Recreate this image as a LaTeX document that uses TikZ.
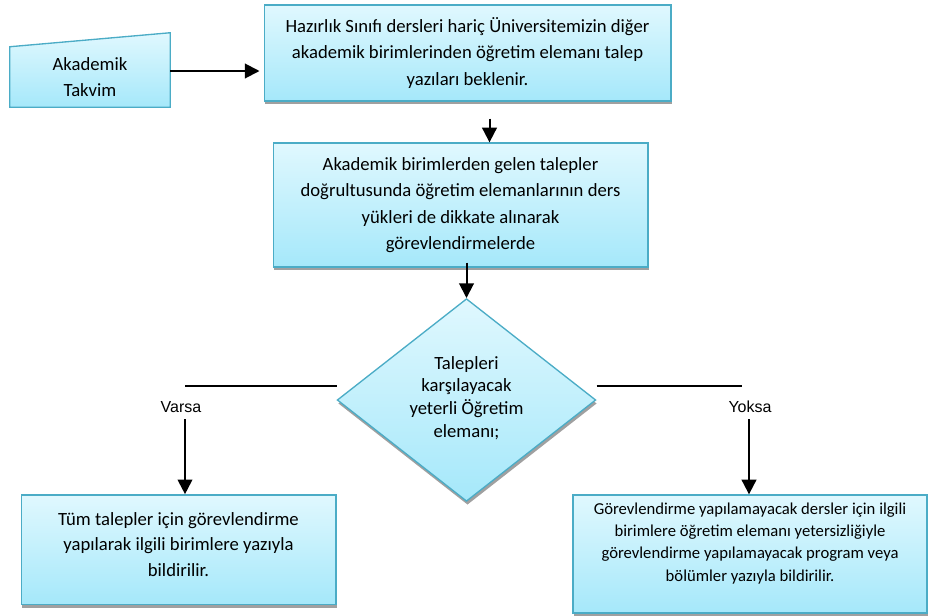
\documentclass[tikz,border=0pt]{standalone}
\usepackage{fontspec}
\setmainfont{Carlito}
\newfontfamily\arialfont{Liberation Sans}
\usetikzlibrary{shapes.geometric,shadows,arrows.meta,backgrounds}
\definecolor{kenar}{RGB}{75,172,198}
\definecolor{ustrenk}{RGB}{224,248,254}
\definecolor{altrenk}{RGB}{165,232,250}
\definecolor{golge}{RGB}{160,160,160}
\tikzset{kutu/.style={draw=kenar, line width=1pt, top color=ustrenk, bottom color=altrenk,
         align=center, inner sep=2pt,
         drop shadow={shadow xshift=0.75pt, shadow yshift=-2.6pt, fill=golge, opacity=1}},
         ok/.style={line width=1.5pt, -{Triangle[width=11pt,length=11pt]}},
         cizgi/.style={line width=1.5pt},
         etiket/.style={font=\arialfont\fontsize{12}{14}\selectfont}}

\begin{document}
\begin{tikzpicture}[x=0.75pt,y=-0.75pt]
\useasboundingbox (0,0) rectangle (931,615);

% akademik takvim
\node [align=center, minimum width=120pt, minimum height=45pt, inner sep=0pt,
       font=\fontsize{14}{19.5}\selectfont] (takvim) at (90,77) {Akademik\\Takvim};
\begin{scope}[on background layer]
\fill [golge, shift={(1,3.5)}] (takvim.south west) -- (takvim.south east)
  -- ([yshift=10.5pt]takvim.north east) -- (takvim.north west) -- cycle;
\draw [draw=kenar, line width=1pt, top color=ustrenk, bottom color=altrenk]
  (takvim.south west) -- (takvim.south east)
  -- ([yshift=10.5pt]takvim.north east) -- (takvim.north west) -- cycle;
\end{scope}

% kutular
\node [kutu, minimum width=305pt, minimum height=72pt, font=\fontsize{14}{19.7}\selectfont]
  (talep) at (467.5,53) {Hazırlık Sınıfı dersleri hariç Üniversitemizin diğer\\
  akademik birimlerinden öğretim elemanı talep\\yazıları beklenir.};
\node [kutu, minimum width=281pt, minimum height=93pt, font=\fontsize{14}{19.8}\selectfont]
  (gorev) at (460.5,205) {Akademik birimlerden gelen talepler\\
  doğrultusunda öğretim elemanlarının ders\\yükleri de dikkate alınarak\\görevlendirmelerde};
\node [kutu, diamond, aspect=1.28, minimum width=194pt, minimum height=152pt, inner sep=0pt,
       font=\fontsize{14}{17}\selectfont]
  (karar) at (466.5,400) {Talepleri\\karşılayacak\\yeterli Öğretim\\elemanı;\rule[-5pt]{0pt}{0pt}};
\node [kutu, minimum width=236pt, minimum height=82pt, font=\fontsize{14}{19.3}\selectfont]
  (tum) at (178.5,549.5) {Tüm talepler için görevlendirme\\
  yapılarak ilgili birimlere yazıyla\\bildirilir.\rule[-7.5pt]{0pt}{0pt}};
\node [kutu, minimum width=265.5pt, minimum height=88.5pt, font=\fontsize{12.5}{16.7}\selectfont]
  (eksik) at (750,554) {Görevlendirme yapılamayacak dersler için ilgili\\
  birimlere öğretim elemanı yetersizliğiyle\\görevlendirme yapılamayacak program veya\\
  bölümler yazıyla bildirilir.\rule[-18pt]{0pt}{0pt}};

\node [etiket] (varsa) at (181,407) {Varsa};
\node [etiket] (yoksa) at (750,407) {Yoksa};

% oklar
\draw [ok, shorten >=3pt] ([yshift=4.5pt]takvim.east) -- ([yshift=4.5pt]takvim.east -| talep.west);
\draw [ok] (talep.south) ++(22,17) coordinate (t1) -- (t1 |- gorev.north);
\draw [ok] (gorev.south -| karar.north) ++(0,-5) -- (karar.north);

\coordinate (sol) at (185,386);
\coordinate (sag) at (749,386);
\draw [cizgi] ([yshift=10.5pt]karar.west) -- (sol);
\draw [cizgi] ([yshift=10.5pt]karar.east) -- (sag -| 742,0);
\draw [ok] (sol |- 0,419) -- (sol |- tum.north);
\draw [ok] (sag |- 0,419) -- (sag |- eksik.north);

\end{tikzpicture}
\end{document}
